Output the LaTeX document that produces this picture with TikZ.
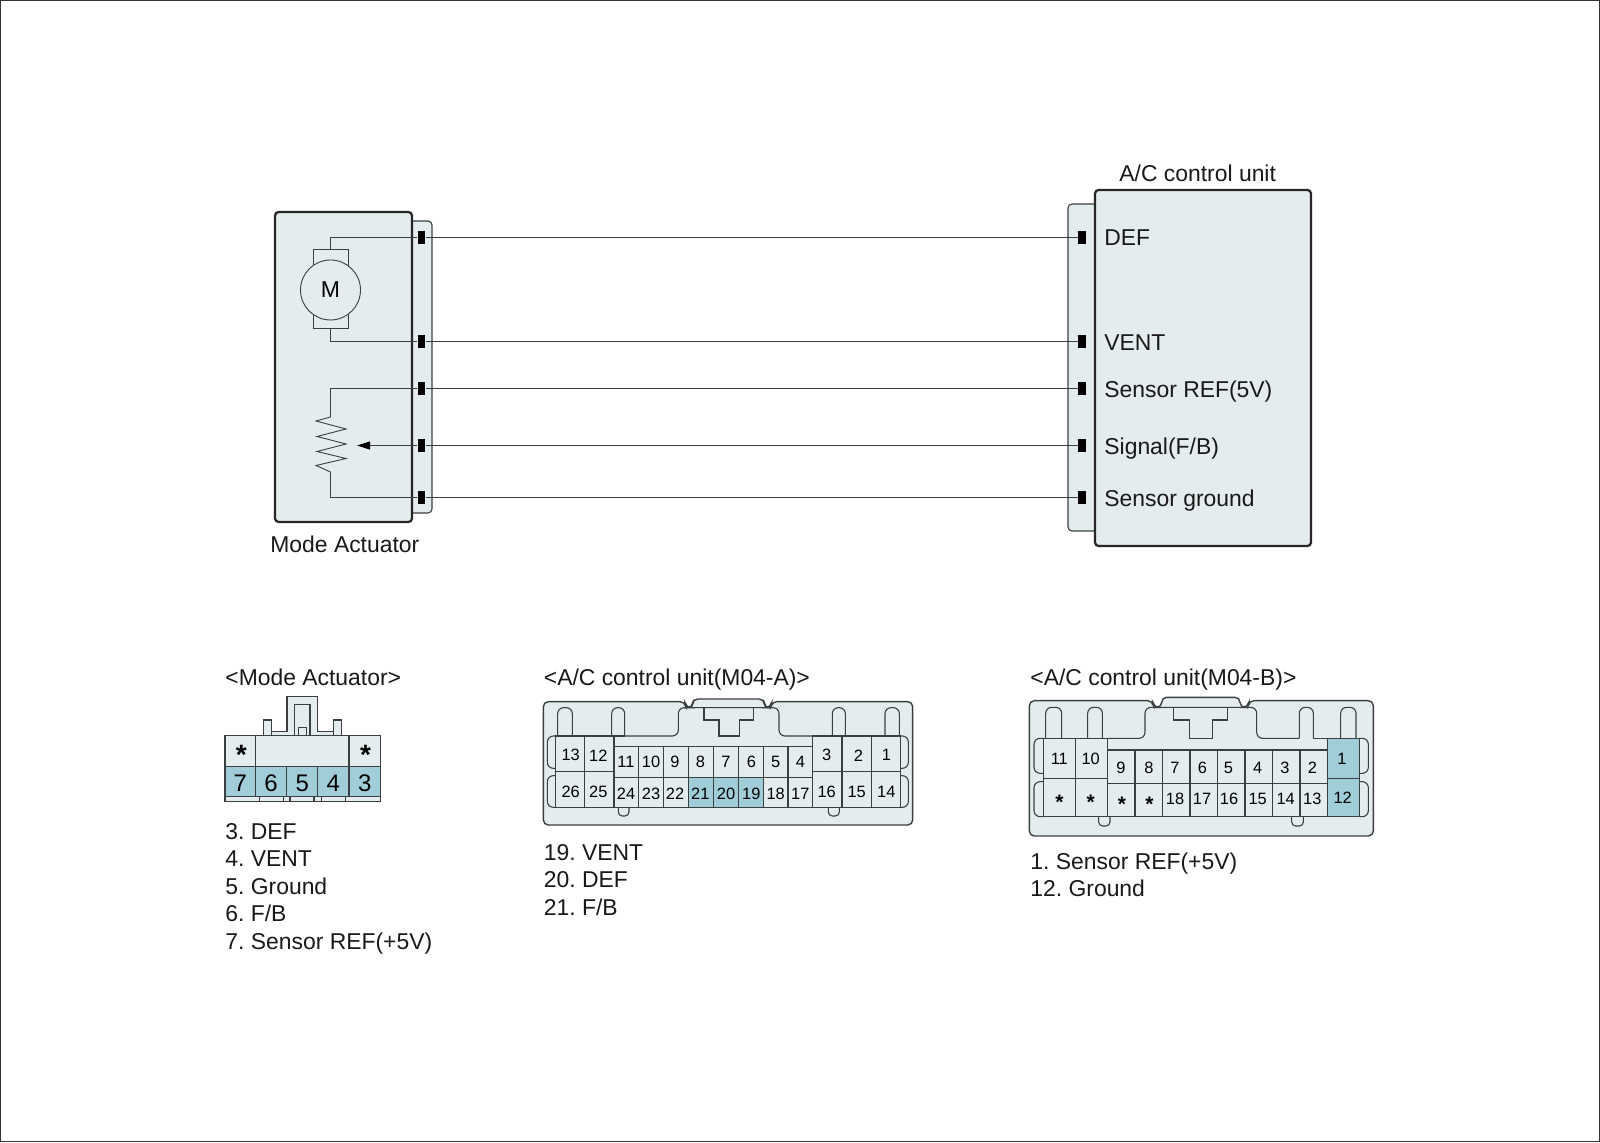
\documentclass[tikz,border=0pt]{standalone}
\usepackage{fontspec}
\setmainfont{Liberation Sans}
\usetikzlibrary{arrows.meta}
\definecolor{panel}{HTML}{E4ECEE}
\definecolor{teal}{HTML}{A0CDD8}
\definecolor{ink}{HTML}{3A3F42}
\newcommand\pcell[9]{%
  \draw[cellline,fill=#6] (#2,#3) rectangle (#4,#5);
  \node[celltext] (#1) at (#7,#8) {#9};}
\tikzset{
  lab/.style={anchor=base west,inner sep=0pt,font=\fontsize{11.45}{14}\selectfont\frenchspacing,text=black!90},
  pinbox/.style={draw=none,fill=black,minimum width=3.8pt,minimum height=6.5pt,inner sep=0pt},
  wire/.style={draw=ink,line width=.55pt},
  unitbox/.style={draw=black!85,line width=1.1pt,fill=panel,rounded corners=1.8pt},
  tabbox/.style={draw=ink,line width=.55pt,fill=panel,rounded corners=2pt},
  thin line/.style={draw=ink,line width=.45pt},
  cellline/.style={draw=ink,line width=.55pt},
  celltext/.style={inner sep=0pt,font=\fontsize{8.2}{10}\selectfont},
  bigtext/.style={inner sep=0pt,font=\fontsize{12}{13}\selectfont},
  starbig/.style={inner sep=0pt,font=\fontsize{14}{16}\selectfont\bfseries},
  starsmall/.style={inner sep=0pt,font=\fontsize{10.5}{12}\selectfont\bfseries},
  outline/.style={draw=ink,line width=.7pt},
}
\begin{document}
\begin{tikzpicture}[x=.5pt,y=-.5pt]
\useasboundingbox (0,0) rectangle (1600,1143);
\fill[white] (0,0) rectangle (1600,1143);
\draw[draw=black!80,line width=.6pt] (.6,.6) rectangle (1599.4,1141.6);

% ---------- Mode actuator ----------
\draw[tabbox] (405,221) -- (432,221) -- (432,513) -- (405,513);
\draw[unitbox] (275,212) rectangle (412,522);
\node[lab] (actlabel) at (270,552.7) {Mode Actuator};
\node[pinbox] (L1) at (421.5,237.5) {};
\node[pinbox] (L2) at (421.5,341.5) {};
\node[pinbox] (L3) at (421.5,388.5) {};
\node[pinbox] (L4) at (421.5,445.5) {};
\node[pinbox] (L5) at (421.5,497.5) {};

% ---------- A/C control unit ----------
\draw[tabbox] (1100,204) -- (1068,204) -- (1068,531) -- (1100,531);
\draw[unitbox] (1095,190) rectangle (1311,546);
\node[lab] (aclabel) at (1119,181.5) {A/C control unit};
\node[pinbox] (R1) at (1082,237.5) {};
\node[pinbox] (R2) at (1082,341.5) {};
\node[pinbox] (R3) at (1082,388.5) {};
\node[pinbox] (R4) at (1082,445.5) {};
\node[pinbox] (R5) at (1082,497.5) {};
\node[lab] (rdef) at (1104,246) {DEF};
\node[lab] (rvent) at (1104,350.8) {VENT};
\node[lab] (rref) at (1104,398) {Sensor REF(5V)};
\node[lab] (rsig) at (1104,454.8) {Signal(F/B)};
\node[lab] (rgnd) at (1104,506.5) {Sensor ground};

% ---------- wires ----------
\draw[wire] (L1) -- (R1);
\draw[wire] (L2) -- (R2);
\draw[wire] (L3) -- (R3);
\draw[wire] (L4) -- (R4);
\draw[wire] (L5) -- (R5);

% motor
\draw[thin line] (L1) -| (330,249);
\draw[thin line] (L2) -| (330,328);
\draw[thin line,fill=panel] (313,249) rectangle (348,328);
\node[circle,draw=ink,line width=.45pt,fill=panel,minimum size=30pt,inner sep=0pt,font=\fontsize{11.5}{12}\selectfont] (M) at (330.5,290) {M};

% potentiometer
\coordinate (rtop) at (330.5,417);
\coordinate (rbot) at (330.5,472);
\coordinate (wiper) at (357,445.5);
\draw[thin line] (L3) -| (rtop) -- (316,421) -- (346,429) -- (317,436.5) -- (346,444) -- (317,451.5) -- (346,458.5) -- (316,465.5) -- (rbot) |- (L5);
\draw[wire,-{Triangle[length=6.5pt,width=4pt,color=black]},shorten >=0pt] (L4) -- (wiper);

% ---------- connector: Mode Actuator ----------
\node[lab] (c1title) at (225,685) {<Mode Actuator>};
\begin{scope}[shift={(200,660)},x=.16667pt,y=-.16667pt]
  \draw[cellline,fill=panel] (190,227) -- (190,180) -- (215,180) -- (215,214) -- (261,214) -- (261,110) -- (353,110) -- (353,214) -- (400,214) -- (400,180) -- (424,180) -- (424,227) -- cycle;
  \draw[cellline] (284,227) -- (284,133) -- (330,133) -- (330,227);
  \draw[cellline] (295,227) -- (295,202) -- (320,202) -- (320,227);
  \draw[cellline] (215,227) -- (215,214);
  \draw[cellline] (400,227) -- (400,214);
  \draw[cellline,fill=panel] (75,410) rectangle (541,425);
  \foreach \a/\b in {178/250,270/342,365/437}{\draw[cellline] (\a,410) -- (\a,425) (\b,410) -- (\b,425);}
  \draw[cellline,fill=panel] (75,227) rectangle (541,320);
  \draw[cellline] (167,227) -- (167,320) (447,227) -- (447,320);
  \foreach \nm/\a/\b in {7/75/167,6/167/260,5/260/353,4/353/447,3/447/541}{
    \draw[cellline,fill=teal] (\a,320) rectangle (\b,410);
    \node[bigtext] (mc\nm) at ({(\a+\b)/2},369) {\nm};
  }
  \node[starbig] (mcs1) at (124,285) {*};
  \node[starbig] (mcs2) at (497,285) {*};
\end{scope}
\node[lab] (m3) at (225,839.1) {3. DEF};
\node[lab] (m4) at (225,866.5) {4. VENT};
\node[lab] (m5) at (225,894.1) {5. Ground};
\node[lab] (m6) at (225,921.5) {6. F/B};
\node[lab] (m7) at (225,949.1) {7. Sensor REF(+5V)};

% ---------- connector: M04-A ----------
\node[lab] (c2title) at (543.5,686) {<A/C control unit(M04-A)>};
\begin{scope}[shift={(530,680)},x=.16667pt,y=-.16667pt]
  \draw[outline,fill=panel,rounded corners=2.5pt] (40,65) -- (465,65) -- (468,83) -- (488,83) -- (488,57) -- (703,57) -- (703,83) -- (722,83) -- (725,65) -- (1148,65) -- (1148,435) -- (40,435) -- cycle;
  \draw[cellline,rounded corners=3pt] (77,265) -- (52,265) -- (52,168) -- (77,168);
  \draw[cellline,rounded corners=3pt] (77,382) -- (52,382) -- (52,287) -- (77,287);
  \draw[cellline,rounded corners=3pt] (1112,265) -- (1135,265) -- (1135,168) -- (1112,168);
  \draw[cellline,rounded corners=3pt] (1112,382) -- (1135,382) -- (1135,287) -- (1112,287);
  \draw[cellline,rounded corners=3pt] (83,168) -- (83,83) -- (127,83) -- (127,168);
  \draw[cellline,rounded corners=3pt] (245,168) -- (245,83) -- (284,83) -- (284,168);
  \draw[cellline] (252,168) -- (284,168);
  \draw[cellline,rounded corners=3pt] (284,168) -- (445,168) -- (445,83) -- (747,83) -- (747,168) -- (848,168);
  \draw[cellline] (522,83) -- (522,120) -- (567,120) -- (567,168) -- (628,168) -- (628,120) -- (670,120) -- (670,83);
  \draw[cellline,rounded corners=3pt] (907,168) -- (907,83) -- (946,83) -- (946,168);
  \draw[cellline,rounded corners=3pt] (1065,168) -- (1065,83) -- (1108,83) -- (1108,168);
  \draw[cellline,rounded corners=2pt] (265,382) -- (265,408) -- (297,408) -- (297,382);
  \draw[cellline,rounded corners=2pt] (895,382) -- (895,408) -- (928,408) -- (928,382);
  % big cells
  \pcell{a13}{77}{168}{164}{275}{panel}{122}{226}{13}
  \pcell{a12}{164}{168}{252}{275}{panel}{205}{226}{12}
  \pcell{a26}{77}{275}{164}{382}{panel}{122}{336}{26}
  \pcell{a25}{164}{275}{252}{382}{panel}{205}{336}{25}
  \pcell{a3}{848}{168}{936}{275}{panel}{890}{226}{3}
  \pcell{a2}{936}{168}{1024}{275}{panel}{985}{226}{2}
  \pcell{a1}{1024}{168}{1112}{275}{panel}{1069}{226}{1}
  \pcell{a16}{848}{275}{936}{382}{panel}{890}{336}{16}
  \pcell{a15}{936}{275}{1024}{382}{panel}{980}{336}{15}
  \pcell{a14}{1024}{275}{1112}{382}{panel}{1069}{336}{14}
  % narrow cells
  \foreach \nu/\nl/\a/\b/\t/\fl in {11/24/252/326/288/panel,10/23/326/401/363/panel,9/22/401/475/435/panel,8/21/475/551/511/teal,7/20/551/626/588/teal,6/19/626/700/664/teal,5/18/700/774/737/panel,4/17/774/848/811/panel}{
    \pcell{a\nu}{\a}{200}{\b}{292}{panel}{\t}{246}{\nu}
    \pcell{a\nl}{\a}{292}{\b}{382}{\fl}{\t}{342}{\nl}
  }
\end{scope}
\node[lab] (a19l) at (543.5,860.1) {19. VENT};
\node[lab] (a20l) at (543.5,887.8) {20. DEF};
\node[lab] (a21l) at (543.5,915.3) {21. F/B};

% ---------- connector: M04-B ----------
\node[lab] (c3title) at (1030,686) {<A/C control unit(M04-B)>};
\begin{scope}[shift={(1020,680)},x=.16667pt,y=-.16667pt]
  \draw[outline,fill=panel,rounded corners=2.5pt] (28,62) -- (398,62) -- (401,82) -- (425,82) -- (425,52) -- (660,52) -- (660,82) -- (684,82) -- (687,62) -- (1060,62) -- (1060,468) -- (28,468) -- cycle;
  \draw[cellline,rounded corners=3pt] (70,280) -- (42,280) -- (42,175) -- (70,175);
  \draw[cellline,rounded corners=3pt] (70,410) -- (42,410) -- (42,305) -- (70,305);
  \draw[cellline,rounded corners=3pt] (1018,280) -- (1045,280) -- (1045,175) -- (1018,175);
  \draw[cellline,rounded corners=3pt] (1018,410) -- (1045,410) -- (1045,305) -- (1018,305);
  \draw[cellline,rounded corners=3pt] (77,175) -- (77,82) -- (125,82) -- (125,175);
  \draw[cellline,rounded corners=3pt] (203,175) -- (203,82) -- (247,82) -- (247,175);
  \draw[cellline,rounded corners=3pt] (262,175) -- (375,175) -- (375,82) -- (710,82) -- (710,175) -- (838,175);
  \draw[cellline] (461,82) -- (461,120) -- (508,120) -- (508,175) -- (577,175) -- (577,120) -- (622,120) -- (622,82);
  \draw[cellline,rounded corners=3pt] (838,175) -- (838,82) -- (880,82) -- (880,175);
  \draw[cellline] (880,175) -- (922,175);
  \draw[cellline,rounded corners=3pt] (962,175) -- (962,82) -- (1008,82) -- (1008,175);
  \draw[cellline,rounded corners=2pt] (236,410) -- (236,438) -- (270,438) -- (270,410);
  \draw[cellline,rounded corners=2pt] (815,410) -- (815,438) -- (850,438) -- (850,410);
  \pcell{b11}{70}{175}{166}{295}{panel}{118}{237}{11}
  \pcell{b10}{166}{175}{262}{295}{panel}{212}{237}{10}
  \draw[cellline,fill=panel] (70,295) rectangle (166,410);
  \draw[cellline,fill=panel] (166,295) rectangle (262,410);
  \pcell{b1}{922}{175}{1018}{295}{teal}{966}{237}{1}
  \pcell{b12}{922}{295}{1018}{410}{teal}{968}{352}{12}
  \foreach \nm/\a/\b/\t in {9/262/345/303,8/345/427/387,7/427/510/465,6/510/592/547,5/592/675/625,4/675/757/713,3/757/840/795,2/840/922/877}{
    \pcell{b\nm}{\a}{210}{\b}{310}{panel}{\t}{263}{\nm}
  }
  \foreach \nm/\a/\b/\t/\ty in {18/427/510/465/357,17/510/592/546/357,16/592/675/627/357,15/675/757/713/357,14/757/840/797/357,13/840/922/877/357}{
    \pcell{bl\a}{\a}{310}{\b}{410}{panel}{\t}{\ty}{\nm}
  }
  \draw[cellline,fill=panel] (262,310) rectangle (345,410);
  \draw[cellline,fill=panel] (345,310) rectangle (427,410);
  \node[starsmall] (bs1) at (118,368) {*};
  \node[starsmall] (bs2) at (212,368) {*};
  \node[starsmall] (bs3) at (306,372) {*};
  \node[starsmall] (bs4) at (388,372) {*};
\end{scope}
\node[lab] (b1l) at (1030,869.6) {1. Sensor REF(+5V)};
\node[lab] (b12l) at (1030,896.5) {12. Ground};
\end{tikzpicture}
\end{document}
